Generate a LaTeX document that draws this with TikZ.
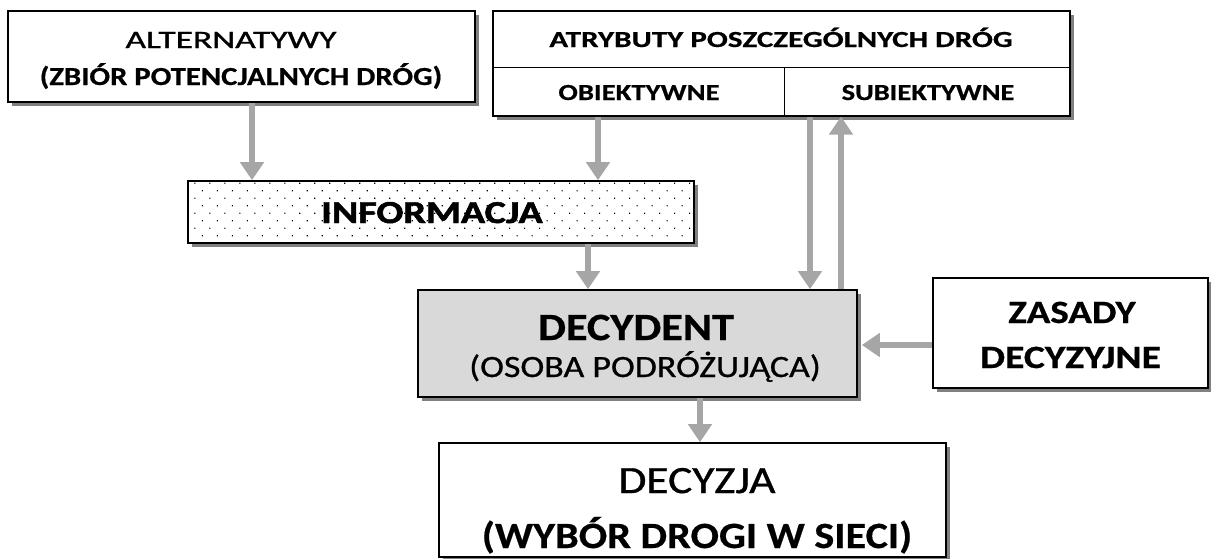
\documentclass[tikz,border=0pt]{standalone}
\usepackage{fontspec}
\setmainfont{Carlito}
\usetikzlibrary{arrows.meta,shadows,patterns.meta}
\newcommand{\tx}[5]{\scalebox{#1}[1]{\fontsize{#2}{#2}\selectfont#3\addfontfeature{FakeBold=#4}#5}}
\tikzset{
  box/.style={draw=black, line width=1.6pt, fill=white, inner sep=0pt,
    drop shadow={shadow xshift=4pt, shadow yshift=-4pt, opacity=1, fill=black!50}},
  cell/.style={draw=black, line width=1pt, inner sep=0pt},
  lbl/.style={anchor=base, inner sep=0pt},
  arr/.style={draw=black!35, line width=6pt, -{Triangle[width=23pt,length=18pt]}},
}
\begin{document}
\begin{tikzpicture}[x=1pt,y=-1pt]
\useasboundingbox (0,0) rectangle (1211,558);
% boxes
\node[box, minimum width=467pt, minimum height=91pt] (alt) at (241.5,56.5) {};
\node[box, minimum width=577pt, minimum height=105pt] (atr) at (781.5,63.5) {};
\node[cell, minimum width=577pt, minimum height=56pt] (atrtop) at (781.5,39) {};
\node[cell, minimum width=291pt, minimum height=49pt] (obiek) at (638.5,91.5) {};
\node[cell, minimum width=286pt, minimum height=49pt] (subiek) at (927,91.5) {};
\node[box, minimum width=506pt, minimum height=62pt,
  postaction={pattern={Dots[radius=0.8pt, distance=10.6pt, angle=45]}, pattern color=black}] (info) at (441,212) {};
\node[box, fill=black!15, minimum width=439pt, minimum height=107pt] (dec) at (637.5,343.5) {};
\node[box, minimum width=275pt, minimum height=110pt] (zas) at (1070.5,333) {};
\node[box, minimum width=507pt, minimum height=114pt] (decyzja) at (692.5,500) {};
% texts
\node[lbl] (altA) at (231,48) {\tx{1.42}{25}{}{0.9}{ALTERNATYWY}};
\node[lbl] (altB) at (241,85) {\tx{1.18}{26}{\bfseries}{0.5}{(ZBIÓR POTENCJALNYCH DRÓG)}};
\node[lbl] (atrA) at (781,47) {\tx{1.35}{23}{\bfseries}{0.5}{ATRYBUTY POSZCZEGÓLNYCH DRÓG}};
\node[lbl] (obiekA) at (639,100) {\tx{1.25}{23}{\bfseries}{0.5}{OBIEKTYWNE}};
\node[lbl] (subiekA) at (928,100) {\tx{1.24}{23}{\bfseries}{0.5}{SUBIEKTYWNE}};
\node[lbl] (infoA) at (432,223) {\tx{1.25}{32}{\bfseries}{1.5}{INFORMACJA}};
\node[lbl] (decA) at (636,340) {\tx{1.15}{38.5}{\bfseries}{0.6}{DECYDENT}};
\node[lbl] (decB) at (645,377) {\tx{1.16}{31}{}{0.7}{(OSOBA PODRÓŻUJĄCA)}};
\node[lbl] (zasA) at (1072,323) {\tx{1.2}{32.5}{\bfseries}{0.6}{ZASADY}};
\node[lbl] (zasB) at (1070.5,368) {\tx{1.22}{32.5}{\bfseries}{0.6}{DECYZYJNE}};
\node[lbl] (decyzjaA) at (697,493) {\tx{1.18}{38.5}{}{0.8}{DECYZJA}};
\node[lbl] (decyzjaB) at (697,548) {\tx{1.14}{37}{\bfseries}{0.5}{(WYBÓR DROGI W SIECI)}};
% arrows
\draw[arr] ([xshift=10.5pt]alt.south) -- ([xshift=10.5pt]alt.south |- info.north);
\draw[arr] ([xshift=-40.5pt]obiek.south) -- ([xshift=-40.5pt]obiek.south |- info.north);
\draw[arr] ([xshift=147pt]info.south) -- ([xshift=147pt]info.south |- dec.north);
\draw[arr] ([xshift=-117pt]subiek.south) -- ([xshift=-117pt]subiek.south |- dec.north);
\draw[arr] ([xshift=203.5pt]dec.north) -- ([xshift=203.5pt]dec.north |- subiek.south);
\draw[arr] ([yshift=-12pt]zas.west) -- ([xshift=4pt,yshift=-12pt]zas.west -| dec.east);
\draw[arr] ([xshift=62.5pt]dec.south) -- ([xshift=62.5pt]dec.south |- decyzja.north);
\end{tikzpicture}
\end{document}
